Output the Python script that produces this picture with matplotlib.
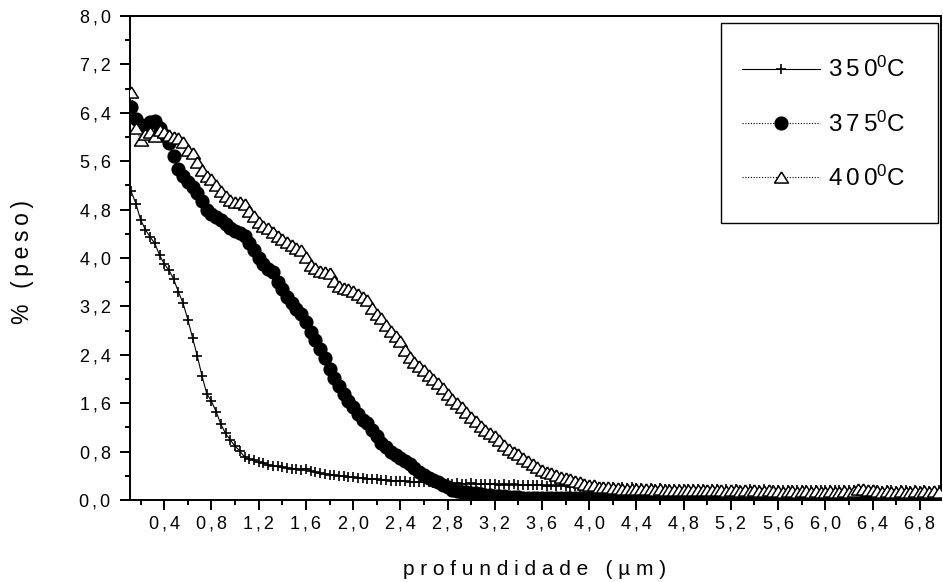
import matplotlib
matplotlib.use('Agg')
import matplotlib.pyplot as plt
import numpy as np
from matplotlib.patches import Rectangle
from matplotlib.ticker import MultipleLocator, FuncFormatter

plt.rcParams['font.family'] = ['Liberation Sans', 'DejaVu Sans']
plt.rcParams['mathtext.fontset'] = 'custom'
plt.rcParams['mathtext.rm'] = 'Liberation Sans'
plt.rcParams['mathtext.default'] = 'regular'

THIN = '\u2009'
SIXTH = '\u2006'

# profile readings: one point every 0.04 um starting at 0.12 um
DEPTH_START = 0.12
DEPTH_STEP = 0.04

peso_350 = [
    5.10, 4.90, 4.63, 4.47, 4.35, 4.24, 4.05, 3.90, 3.80, 3.65,
    3.44, 3.25, 2.98, 2.68, 2.38, 2.05, 1.76, 1.63, 1.46, 1.25,
    1.10, 0.99, 0.89, 0.81, 0.71, 0.68, 0.66, 0.62, 0.61, 0.58,
    0.57, 0.56, 0.54, 0.53, 0.51, 0.52, 0.50, 0.52, 0.48, 0.46,
    0.44, 0.43, 0.42, 0.41, 0.40, 0.39, 0.38, 0.38, 0.36, 0.36,
    0.35, 0.35, 0.34, 0.33, 0.33, 0.32, 0.32, 0.31, 0.31, 0.30,
    0.30, 0.29, 0.30, 0.29, 0.28, 0.29, 0.28, 0.28, 0.27, 0.28,
    0.27, 0.27, 0.28, 0.26, 0.27, 0.26, 0.26, 0.27, 0.25, 0.26,
    0.25, 0.26, 0.25, 0.24, 0.25, 0.24, 0.25, 0.24, 0.23, 0.24,
    0.23, 0.24, 0.23, 0.22, 0.23, 0.22, 0.23, 0.22, 0.22, 0.21,
    0.22, 0.21, 0.21, 0.20, 0.21, 0.20, 0.21, 0.20, 0.20, 0.19,
    0.20, 0.19, 0.20, 0.19, 0.19, 0.18, 0.19, 0.18, 0.19, 0.18,
    0.18, 0.18, 0.17, 0.18, 0.18, 0.17, 0.18, 0.17, 0.18, 0.17,
    0.17, 0.18, 0.17, 0.17, 0.18, 0.17, 0.17, 0.16, 0.17, 0.17,
    0.17, 0.16, 0.17, 0.17, 0.16, 0.17, 0.16, 0.17, 0.16, 0.16,
    0.17, 0.16, 0.16, 0.17, 0.16, 0.16, 0.17, 0.16, 0.16, 0.15,
    0.16, 0.16, 0.15, 0.16, 0.16, 0.15, 0.16, 0.15, 0.16, 0.15,
    0.15, 0.16,
]

peso_375 = [
    6.50, 6.30, 6.20, 6.18, 6.25, 6.26, 6.15, 6.04, 5.90, 5.68,
    5.47, 5.36, 5.26, 5.18, 5.07, 4.95, 4.79, 4.73, 4.67, 4.62,
    4.56, 4.50, 4.44, 4.42, 4.36, 4.25, 4.13, 4.00, 3.90, 3.82,
    3.77, 3.60, 3.48, 3.36, 3.26, 3.15, 3.07, 2.95, 2.78, 2.65,
    2.50, 2.34, 2.17, 2.01, 1.88, 1.76, 1.63, 1.53, 1.42, 1.33,
    1.27, 1.15, 1.05, 0.95, 0.87, 0.80, 0.74, 0.69, 0.64, 0.59,
    0.53, 0.47, 0.41, 0.37, 0.33, 0.29, 0.25, 0.21, 0.17, 0.15,
    0.14, 0.13, 0.12, 0.11, 0.10, 0.09, 0.08, 0.07, 0.06, 0.06,
    0.05, 0.05, 0.05, 0.04, 0.04, 0.04, 0.04, 0.03, 0.04, 0.03,
    0.03, 0.04, 0.03, 0.04, 0.03, 0.03, 0.04, 0.03, 0.04, 0.03,
    0.04, 0.03, 0.03, 0.04, 0.03, 0.04, 0.03, 0.03, 0.04, 0.03,
    0.03, 0.04, 0.03, 0.04, 0.03, 0.03, 0.04, 0.03, 0.04, 0.03,
    0.04, 0.03, 0.03, 0.04, 0.03, 0.04, 0.03, 0.03, 0.04, 0.03,
    0.03, 0.04, 0.03, 0.04, 0.03, 0.03, 0.04, 0.03, 0.04, 0.03,
    0.04, 0.03, 0.03, 0.04, 0.03, 0.04, 0.03, 0.03, 0.04, 0.03,
    0.03, 0.04, 0.03, 0.04, 0.03, 0.03, 0.04, 0.03, 0.04, 0.03,
    0.04, 0.03, 0.03, 0.04, 0.03, 0.04, 0.03, 0.03, 0.04, 0.03,
    0.03, 0.04,
]

peso_400 = [
    6.75, 6.15, 5.95, 6.05, 6.08, 6.02, 6.12, 6.08, 6.03, 6.00,
    5.98, 5.92, 5.78, 5.73, 5.58, 5.45, 5.36, 5.30, 5.20, 5.10,
    5.02, 4.96, 4.93, 4.93, 4.90, 4.78, 4.70, 4.59, 4.53, 4.49,
    4.43, 4.37, 4.32, 4.27, 4.21, 4.17, 4.14, 4.02, 3.88, 3.84,
    3.79, 3.77, 3.75, 3.62, 3.54, 3.51, 3.49, 3.45, 3.41, 3.36,
    3.31, 3.17, 3.08, 3.01, 2.89, 2.79, 2.71, 2.62, 2.48, 2.37,
    2.28, 2.21, 2.15, 2.06, 2.00, 1.94, 1.85, 1.75, 1.67, 1.60,
    1.53, 1.46, 1.38, 1.31, 1.22, 1.15, 1.10, 1.05, 0.99, 0.91,
    0.85, 0.80, 0.76, 0.70, 0.65, 0.59, 0.54, 0.50, 0.47, 0.44,
    0.41, 0.38, 0.36, 0.34, 0.31, 0.29, 0.27, 0.25, 0.24, 0.22,
    0.21, 0.21, 0.20, 0.20, 0.19, 0.19, 0.19, 0.18, 0.18, 0.18,
    0.18, 0.17, 0.18, 0.17, 0.17, 0.17, 0.16, 0.17, 0.17, 0.16,
    0.17, 0.16, 0.16, 0.17, 0.16, 0.16, 0.15, 0.16, 0.16, 0.15,
    0.16, 0.15, 0.16, 0.15, 0.15, 0.16, 0.15, 0.15, 0.14, 0.15,
    0.15, 0.14, 0.15, 0.15, 0.14, 0.15, 0.14, 0.14, 0.15, 0.14,
    0.14, 0.15, 0.14, 0.15, 0.18, 0.19, 0.17, 0.16, 0.15, 0.14,
    0.15, 0.14, 0.14, 0.15, 0.14, 0.14, 0.15, 0.14, 0.15, 0.14,
    0.15, 0.14,
]

depth = np.round(DEPTH_START + DEPTH_STEP * np.arange(len(peso_350)), 2)


def spaced(text, gap=THIN):
    return gap.join(text)


def comma_fmt(v, pos):
    return spaced(f'{v:.1f}'.replace('.', ','), SIXTH)


labels = [spaced(t, SIXTH) + '$^{0}$C' for t in ('350', '375', '400')]

# flattened open triangle, like the plotting package's default symbol
tri = [(0, 0.8), (-1, -0.8), (1, -0.8), (0, 0.8)]
dots = (0, (1, 1.5))

fig = plt.figure(figsize=(9.43, 5.82), dpi=100)
ax = fig.add_axes([130 / 943, 82 / 582, 811 / 943, 484 / 582])

ax.plot(depth, peso_350, color='k', lw=0.8, marker='+', ms=7.5, mew=1.2,
        label=labels[0], zorder=2)
ax.plot(depth, peso_375, color='k', lw=0.8, ls=dots, marker='o', ms=9.2,
        mec='k', mfc='k', label=labels[1], zorder=3)
ax.plot(depth, peso_400, color='k', lw=0.8, ls=dots, marker=tri, ms=10,
        mec='k', mfc='white', mew=1.1, label=labels[2], zorder=4)

ax.set_xlim(0.11, 6.98)
ax.set_ylim(0, 8.0)
ax.xaxis.set_major_locator(MultipleLocator(0.4))
ax.xaxis.set_minor_locator(MultipleLocator(0.2))
ax.yaxis.set_major_locator(MultipleLocator(0.8))
ax.yaxis.set_minor_locator(MultipleLocator(0.4))
ax.xaxis.set_major_formatter(FuncFormatter(comma_fmt))
ax.yaxis.set_major_formatter(FuncFormatter(comma_fmt))

ax.tick_params(which='both', direction='out', width=1.4, colors='k',
               top=False, right=False)
ax.tick_params(which='major', length=7, labelsize=13)
ax.tick_params(which='minor', length=3.6)
ax.tick_params(axis='x', which='major', pad=4.5)
ax.tick_params(axis='y', which='major', pad=7)
for side in ax.spines.values():
    side.set_linewidth(1.4)
    side.set_color('k')

fig.text(535 / 943, 7 / 582, spaced('profundidade (µm)', ' '),
         ha='center', va='baseline', fontsize=15)
fig.text(23 / 943, 1 - 262 / 582, spaced('% (peso)'), rotation=90,
         ha='center', va='center', fontsize=16.5)

leg = ax.legend(loc='upper left', bbox_to_anchor=(742 / 943, 1 - 57 / 582),
                bbox_transform=fig.transFigure, frameon=False, borderpad=0,
                borderaxespad=0, handlelength=3.2, handletextpad=0.33,
                labelspacing=1.2, numpoints=1, fontsize=17.5)
fig.add_artist(Rectangle((720.7 / 943, 1 - 223 / 582), 217.3 / 943, 200 / 582,
                         transform=fig.transFigure, fill=False, ec='k', lw=1.0))

fig.savefig('out.png', dpi=100)
